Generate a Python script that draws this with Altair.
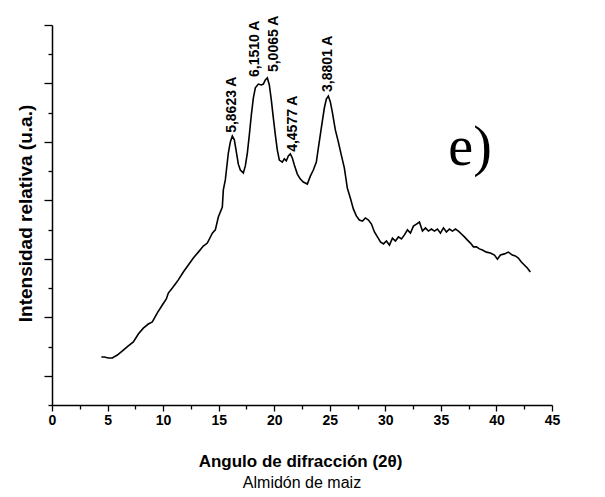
import altair as alt
import pandas as pd

# Diffractogram of corn starch: diffraction angle (2θ, degrees) vs relative intensity (a.u.)
two_theta = [4.44, 4.71, 5.07, 5.43, 5.88, 6.42, 6.87, 7.32, 7.77, 8.22,
             8.67, 9.03, 9.48, 9.93, 10.29, 10.47, 10.83, 11.10, 11.37, 11.82,
             12.27, 12.72, 13.17, 13.62, 13.98, 14.43, 14.70, 14.97, 15.33, 15.42,
             15.60, 15.87, 16.05, 16.23, 16.41, 16.59, 16.77, 16.95, 17.22, 17.40,
             17.58, 17.76, 17.94, 18.12, 18.30, 18.57, 18.84, 19.02, 19.20, 19.38,
             19.56, 19.74, 19.92, 20.10, 20.28, 20.46, 20.73, 20.91, 21.09, 21.27,
             21.45, 21.63, 21.81, 22.08, 22.35, 22.62, 22.98, 23.25, 23.52, 23.79,
             23.97, 24.24, 24.51, 24.69, 24.87, 25.05, 25.23, 25.50, 25.77, 26.04,
             26.31, 26.58, 26.85, 27.12, 27.39, 27.66, 27.94, 28.21, 28.48, 28.75,
             29.02, 29.29, 29.56, 29.83, 30.10, 30.37, 30.64, 30.91, 31.18, 31.45,
             31.72, 31.99, 32.26, 32.53, 32.80, 33.07, 33.34, 33.61, 33.88, 34.15,
             34.42, 34.69, 34.96, 35.23, 35.50, 35.77, 36.04, 36.31, 36.58, 36.85,
             37.12, 37.39, 37.66, 37.93, 38.20, 38.47, 38.74, 39.10, 39.46, 39.82,
             40.09, 40.36, 40.72, 41.07, 41.43, 41.70, 41.97, 42.24, 42.51, 42.78,
             43.05]

intensity = [1.64, 1.64, 1.61, 1.61, 1.71, 1.88, 2.02, 2.16, 2.43, 2.63,
             2.77, 2.84, 3.15, 3.42, 3.63, 3.83, 4.00, 4.14, 4.28, 4.55,
             4.79, 5.03, 5.23, 5.44, 5.54, 5.88, 5.99, 6.43, 6.77, 7.36,
             7.70, 8.62, 9.00, 9.20, 9.07, 8.66, 8.24, 8.04, 7.94, 8.18,
             8.62, 9.24, 9.92, 10.50, 10.85, 10.98, 10.95, 10.98, 11.12, 11.19,
             10.95, 10.43, 9.82, 9.24, 8.72, 8.38, 8.31, 8.42, 8.35, 8.52,
             8.59, 8.45, 8.21, 7.90, 7.73, 7.63, 7.56, 7.83, 8.04, 8.31,
             8.79, 9.48, 10.16, 10.47, 10.57, 10.37, 10.02, 9.41, 9.00, 8.55,
             8.11, 7.42, 7.08, 6.71, 6.47, 6.33, 6.29, 6.40, 6.33, 6.19,
             5.92, 5.75, 5.58, 5.51, 5.61, 5.47, 5.71, 5.61, 5.75, 5.68,
             5.82, 5.99, 5.88, 6.12, 6.19, 6.26, 5.95, 6.06, 5.95, 6.02,
             5.95, 6.02, 5.88, 6.06, 5.92, 6.02, 5.95, 6.02, 5.95, 5.85,
             5.75, 5.64, 5.54, 5.41, 5.41, 5.34, 5.30, 5.23, 5.20, 5.13,
             4.99, 5.13, 5.17, 5.23, 5.13, 5.10, 5.03, 4.89, 4.79, 4.69,
             4.55]

# d-spacing annotations above the main reflections
peak_labels = ["5,8623 A", "6,1510 A", "5,0065 A", "4,4577 A", "3,8801 A"]
peak_x = [16.23, 18.30, 20.01, 21.72, 24.87]
peak_y = [9.31, 11.22, 11.39, 8.66, 10.71]

# panel tag
panel_tag = ["e)"]
tag_x = [35.67]
tag_y = [8.21]

x_ticks = [i * 2.5 for i in range(19)]
y_ticks = list(range(14))

FONT = "Liberation Sans"

curve = pd.DataFrame({"two_theta": two_theta, "intensity": intensity})
peaks = pd.DataFrame({"label": peak_labels, "x": peak_x, "y": peak_y})
tag = pd.DataFrame({"text": panel_tag, "x": tag_x, "y": tag_y})

x_scale = alt.Scale(domain=[0, 45], nice=False, zero=False)
y_scale = alt.Scale(domain=[0, 13], nice=False)

x_axis = alt.Axis(
    title="Angulo de difracción (2θ)",
    values=x_ticks,
    labelExpr="datum.value % 5 === 0 ? format(datum.value, 'd') : ''",
    tickSize={"condition": {"test": "datum.value % 5 === 0", "value": 6}, "value": 4},
    labelFlush=False,
    labelOverlap=False,
    labelFontSize=14,
    labelFontWeight="bold",
    labelFont=FONT,
    labelPadding=2,
    titleFontSize=17,
    titleFontWeight="bold",
    titleFont=FONT,
    titleX=248,
    titleY=56,
    titleBaseline="middle",
    grid=False,
)

y_axis = alt.Axis(
    title="Intensidad relativa (u.a.)",
    values=y_ticks,
    labels=False,
    tickSize={"condition": {"test": "datum.value % 2 === 1", "value": 8}, "value": 4},
    titleFontSize=19,
    titleFontWeight="bold",
    titleFont=FONT,
    titleAngle=270,
    titleX=-27,
    titleY=188,
    titleAlign="center",
    titleBaseline="middle",
    grid=False,
)

line = alt.Chart(curve).mark_line(color="black", strokeWidth=1.6).encode(
    x=alt.X("two_theta:Q", scale=x_scale, axis=x_axis),
    y=alt.Y("intensity:Q", scale=y_scale, axis=y_axis),
)

labels = alt.Chart(peaks).mark_text(
    angle=270, align="left", baseline="middle",
    font=FONT, fontSize=14, fontWeight="bold", color="black",
).encode(
    x=alt.X("x:Q", scale=x_scale, axis=x_axis),
    y=alt.Y("y:Q", scale=y_scale, axis=y_axis),
    text="label:N",
)

tag_text = alt.Chart(tag).mark_text(
    align="left", baseline="alphabetic",
    font="Liberation Serif", fontSize=56, color="black",
).encode(
    x=alt.X("x:Q", scale=x_scale, axis=x_axis),
    y=alt.Y("y:Q", scale=y_scale, axis=y_axis),
    text="text:N",
)

chart = (
    alt.layer(line, labels, tag_text)
    .properties(
        width=500,
        height=380,
        autosize=alt.AutoSizeParams(type="none"),
        padding={"left": 52, "top": 25, "right": 53, "bottom": 92},
        title=alt.TitleParams(
            "Almidón de maiz", orient="bottom", anchor="middle",
            font=FONT, fontSize=16, fontWeight="normal", color="black", offset=6,
        ),
        background="white",
    )
    .configure_view(stroke=None)
    .configure_axis(
        domainColor="black", domainWidth=1.5,
        tickColor="black", tickWidth=1.3,
        labelColor="black", titleColor="black",
    )
)

chart.save("out.html", embed_options={"renderer": "svg", "actions": False})
